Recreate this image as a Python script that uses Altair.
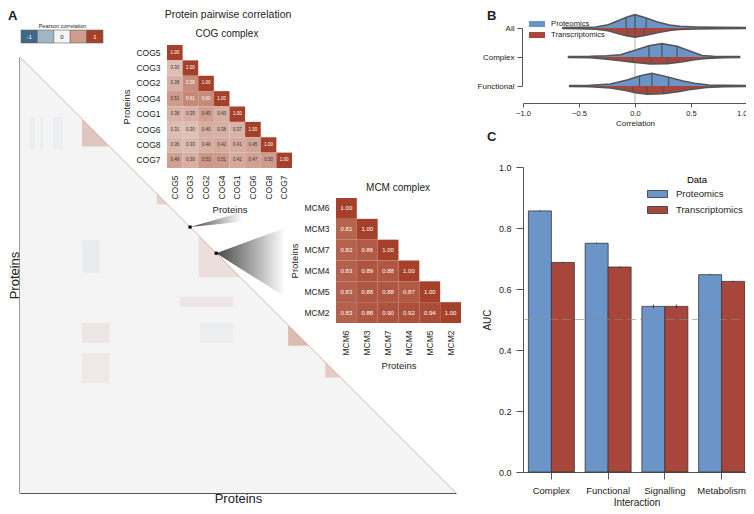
import altair as alt
import numpy as np
import pandas as pd

FONT = "Liberation Sans"
TXT = "#222222"
AX = "#555555"
BLUE = "#6b95c9"
RED = "#a9463c"

series_names = ["Proteomics", "Transcriptomics"]
series_colors = [BLUE, RED]

# ---------------- Panel A data ----------------
corr_domain = [-1, -0.5, 0, 0.5, 1]
corr_colors = ["#3e6887", "#9fb7c4", "#f4f4f4", "#cf9c8d", "#a5412b"]
cbar_values = [-1, -0.5, 0, 0.5, 1]
cbar_labels = ["-1", "", "0", "", "1"]

cog_names = ["COG5", "COG3", "COG2", "COG4", "COG1", "COG6", "COG8", "COG7"]
cog_corr = [
    [1.00],
    [0.30, 1.00],
    [0.38, 0.59, 1.00],
    [0.51, 0.61, 0.60, 1.00],
    [0.38, 0.39, 0.49, 0.40, 1.00],
    [0.31, 0.30, 0.40, 0.38, 0.37, 1.00],
    [0.36, 0.33, 0.40, 0.42, 0.41, 0.45, 1.00],
    [0.48, 0.39, 0.53, 0.51, 0.42, 0.47, 0.50, 1.00],
]
mcm_names = ["MCM6", "MCM3", "MCM7", "MCM4", "MCM5", "MCM2"]
mcm_corr = [
    [1.00],
    [0.81, 1.00],
    [0.82, 0.86, 1.00],
    [0.83, 0.89, 0.88, 1.00],
    [0.83, 0.88, 0.88, 0.87, 1.00],
    [0.83, 0.88, 0.90, 0.92, 0.94, 1.00],
]

n_proteins = 1000
# correlated blocks along the diagonal
cluster_start = [142, 314, 410, 615, 700]
cluster_end = [205, 338, 505, 662, 735]
cluster_corr = [0.40, 0.30, 0.18, 0.50, 0.35]
# faint off-diagonal patches (columns x rows, protein index)
patch_c0 = [142, 142, 142, 413, 367, 23, 46, 76]
patch_c1 = [183, 206, 206, 489, 489, 34, 53, 99]
patch_r0 = [420, 610, 679, 610, 550, 138, 138, 138]
patch_r1 = [495, 656, 748, 656, 573, 213, 213, 213]
patch_corr = [-0.12, 0.15, 0.12, -0.10, 0.15, -0.08, -0.08, -0.08]

zoom_names = ["COG", "MCM"]
zoom_index = [390, 450]
zoom_end = [509, 608]
zoom_top = [356, 392]
zoom_bottom = [378, 550]

# ---------------- Panel B data ----------------
vio_cats = ["All", "Complex", "Functional"]
all_p_x = [-0.65, -0.5, -0.35, -0.24, -0.13, -0.07, 0.0, 0.1, 0.2, 0.31, 0.4, 0.55, 0.75, 1.0]
all_p_d = [0.04, 0.05, 0.08, 0.25, 0.62, 0.83, 1.0, 0.75, 0.45, 0.23, 0.13, 0.08, 0.05, 0.04]
all_t_x = [-0.65, -0.5, -0.35, -0.24, -0.13, -0.07, 0.0, 0.1, 0.2, 0.31, 0.4, 0.55, 0.75, 1.0]
all_t_d = [0.04, 0.05, 0.09, 0.2, 0.47, 0.6, 0.68, 0.55, 0.36, 0.19, 0.11, 0.07, 0.05, 0.04]
cpx_p_x = [-0.6, -0.4, -0.25, -0.13, 0.0, 0.125, 0.24, 0.375, 0.52, 0.6, 0.7, 0.94]
cpx_p_d = [0.04, 0.05, 0.09, 0.17, 0.5, 0.85, 1.0, 0.8, 0.35, 0.11, 0.06, 0.04]
cpx_t_x = [-0.6, -0.4, -0.27, -0.13, 0.0, 0.14, 0.29, 0.43, 0.53, 0.64, 0.8, 0.94]
cpx_t_d = [0.04, 0.06, 0.15, 0.28, 0.4, 0.53, 0.5, 0.35, 0.2, 0.1, 0.05, 0.04]
fun_p_x = [-0.59, -0.4, -0.22, -0.07, 0.04, 0.15, 0.3, 0.43, 0.53, 0.66, 0.8, 1.0]
fun_p_d = [0.04, 0.06, 0.15, 0.45, 0.75, 0.95, 0.65, 0.38, 0.2, 0.08, 0.05, 0.04]
fun_t_x = [-0.59, -0.4, -0.22, -0.07, 0.0, 0.11, 0.25, 0.4, 0.5, 0.64, 0.8, 1.0]
fun_t_d = [0.04, 0.06, 0.15, 0.35, 0.5, 0.62, 0.58, 0.4, 0.25, 0.1, 0.05, 0.04]
quart_all_p = [-0.08, 0.0, 0.1]
quart_all_t = [-0.07, 0.0, 0.08]
quart_cpx_p = [0.125, 0.24, 0.375]
quart_cpx_t = [-0.02, 0.14, 0.29]
quart_fun_p = [0.04, 0.15, 0.3]
quart_fun_t = [-0.02, 0.11, 0.25]
zero_line_x = [0.0]

# ---------------- Panel C data ----------------
interactions = ["Complex", "Functional", "Signalling", "Metabolism"]
prot_auc = [0.856, 0.750, 0.543, 0.647]
trans_auc = [0.687, 0.672, 0.543, 0.625]
prot_err = [0.002, 0.002, 0.006, 0.002]
trans_err = [0.002, 0.002, 0.006, 0.002]
chance_auc = [0.5]


def band(domain, rng):
    return alt.Scale(domain=domain, range=rng, paddingInner=0, paddingOuter=0)


def lin(domain, rng):
    return alt.Scale(domain=domain, range=rng, nice=False, zero=False)


def corr_scale():
    return alt.Scale(domain=corr_domain, range=corr_colors, interpolate="rgb")


layers = []

# ================= Panel A: big matrix =================
HX = [12, 448]
HY = [49, 485]
HD = [0, n_proteins]
tri_df = pd.DataFrame({"c": [0, n_proteins], "top": [0, n_proteins], "bot": [n_proteins, n_proteins]})
heat_x_axis = alt.Axis(orient="bottom", offset=-13, domainColor=AX, domainWidth=1.2, ticks=False,
                       labels=False, grid=False, title="Proteins", titleFontSize=13, titleY=9,
                       titleBaseline="alphabetic", titleFontWeight="normal")
heat_y_axis = alt.Axis(orient="left", offset=-11.5, domainColor=AX, domainWidth=1.2, ticks=False,
                       labels=False, grid=False, title="Proteins", titleFontSize=13, titleAngle=270,
                       titleX=-1.5, titleY=267, titleAlign="center", titleBaseline="alphabetic",
                       titleFontWeight="normal")
layers.append(alt.Chart(tri_df).mark_area(color="#f4f4f5").encode(
    x=alt.X("c:Q", scale=lin(HD, HX), axis=heat_x_axis),
    y=alt.Y("top:Q", scale=lin(HD, HY), axis=heat_y_axis),
    y2="bot:Q",
))

patch_df = pd.DataFrame({"c0": patch_c0, "c1": patch_c1, "r0": patch_r0, "r1": patch_r1, "v": patch_corr})
layers.append(alt.Chart(patch_df).mark_rect(opacity=0.55).encode(
    x=alt.X("c0:Q", scale=lin(HD, HX), axis=None),
    x2="c1:Q",
    y=alt.Y("r0:Q", scale=lin(HD, HY), axis=None),
    y2="r1:Q",
    color=alt.Color("v:Q", scale=corr_scale(), legend=None),
))

cl_rows = []
for i, (a, b, v) in enumerate(zip(cluster_start, cluster_end, cluster_corr)):
    cl_rows.append({"id": i, "c": a, "top": a, "bot": b, "v": v})
    cl_rows.append({"id": i, "c": b, "top": b, "bot": b, "v": v})
layers.append(alt.Chart(pd.DataFrame(cl_rows)).mark_area(opacity=0.65).encode(
    x=alt.X("c:Q", scale=lin(HD, HX), axis=None),
    y=alt.Y("top:Q", scale=lin(HD, HY), axis=None),
    y2="bot:Q",
    detail="id:N",
    color=alt.Color("v:Q", scale=corr_scale(), legend=None),
))

diag_df = pd.DataFrame({"c": [0, n_proteins], "r": [0, n_proteins]})
layers.append(alt.Chart(diag_df).mark_line(color="#c9826f", strokeWidth=0.7, opacity=0.8).encode(
    x=alt.X("c:Q", scale=lin(HD, HX), axis=None),
    y=alt.Y("r:Q", scale=lin(HD, HY), axis=None),
))

w_rows = []
for nm, idx, e, t, b in zip(zoom_names, zoom_index, zoom_end, zoom_top, zoom_bottom):
    w_rows.append({"name": nm, "c": idx, "top": idx, "bot": idx})
    w_rows.append({"name": nm, "c": e, "top": t, "bot": b})
wedge_fill = alt.LinearGradient(
    gradient="linear",
    stops=[alt.GradientStop(color="#3c3c3c", offset=0), alt.GradientStop(color="#ffffff", offset=1)],
    x1=0, x2=1, y1=0, y2=0,
)
layers.append(alt.Chart(pd.DataFrame(w_rows)).mark_area(fill=wedge_fill, opacity=0.95).encode(
    x=alt.X("c:Q", scale=lin(HD, HX), axis=None),
    y=alt.Y("top:Q", scale=lin(HD, HY), axis=None),
    y2="bot:Q",
    detail="name:N",
))
layers.append(alt.Chart(pd.DataFrame({"c": zoom_index, "r": zoom_index})).mark_square(
    size=10, color="black", opacity=1, filled=True).encode(
    x=alt.X("c:Q", scale=lin(HD, HX), axis=None),
    y=alt.Y("r:Q", scale=lin(HD, HY), axis=None),
))


# ================= Panel A: insets =================
def inset(names, corr, xr, yr, fsize, xoff, yoff):
    rows = []
    for i, r in enumerate(corr):
        for j, v in enumerate(r):
            rows.append({"row": names[i], "col": names[j], "v": v})
    df = pd.DataFrame(rows)
    xax = alt.Axis(orient="bottom", offset=xoff, labelAngle=270, labelFontSize=8.5, labelPadding=7,
                   ticks=False, domain=False, title="Proteins", titleFontSize=9.5, titlePadding=5,
                   titleFontWeight="normal", grid=False)
    yax = alt.Axis(orient="left", offset=yoff, labelFontSize=8.5, labelPadding=7, ticks=False,
                   domain=False, title="Proteins", titleFontSize=9.5, titlePadding=4,
                   titleFontWeight="normal", grid=False)
    rect = alt.Chart(df).mark_rect().encode(
        x=alt.X("col:N", sort=names, scale=band(names, xr), axis=xax),
        y=alt.Y("row:N", sort=names, scale=band(names, yr), axis=yax),
        color=alt.Color("v:Q", scale=corr_scale(), legend=None),
    )
    txt = alt.Chart(df).mark_text(fontSize=fsize).encode(
        x=alt.X("col:N", sort=names, scale=band(names, xr), axis=None),
        y=alt.Y("row:N", sort=names, scale=band(names, yr), axis=None),
        text=alt.Text("v:Q", format=".2f"),
        color=alt.condition("datum.v >= 0.58", alt.value("white"), alt.value("#333333")),
    )
    return [rect, txt]


layers += inset(cog_names, cog_corr, [159, 284], [37, 160], 4.5, -338, -159)
layers += inset(mcm_names, mcm_corr, [328, 453], [190, 315], 6, -183, -328)

cbar_keys = [str(i) for i in range(len(cbar_values))]
cbar_df = pd.DataFrame({"k": cbar_keys, "v": cbar_values, "lab": cbar_labels, "r": ["bar"] * 5})
layers.append(alt.Chart(cbar_df).mark_rect(stroke="#666666", strokeWidth=0.6).encode(
    x=alt.X("k:N", scale=band(cbar_keys, [13, 95]),
            axis=alt.Axis(orient="top", offset=-22, labels=False, ticks=False, domain=False,
                          title="Pearson correlation", titleFontSize=5.5, titlePadding=2,
                          titleFontWeight="normal", grid=False)),
    y=alt.Y("r:N", scale=band(["bar"], [22, 35]), axis=None),
    color=alt.Color("v:Q", scale=corr_scale(), legend=None),
))
layers.append(alt.Chart(cbar_df).mark_text(fontSize=6).encode(
    x=alt.X("k:N", scale=band(cbar_keys, [13, 95]), axis=None),
    y=alt.Y("r:N", scale=band(["bar"], [22, 35]), axis=None),
    text="lab:N",
    color=alt.condition("abs(datum.v) > 0.9", alt.value("white"), alt.value("#222222")),
))

# ================= Panel B: violins =================
BX = [515, 739]
BY = [20, 78]
VK = 0.46
vio_sets = [
    ("All", "Proteomics", all_p_x, all_p_d, quart_all_p),
    ("All", "Transcriptomics", all_t_x, all_t_d, quart_all_t),
    ("Complex", "Proteomics", cpx_p_x, cpx_p_d, quart_cpx_p),
    ("Complex", "Transcriptomics", cpx_t_x, cpx_t_d, quart_cpx_t),
    ("Functional", "Proteomics", fun_p_x, fun_p_d, quart_fun_p),
    ("Functional", "Transcriptomics", fun_t_x, fun_t_d, quart_fun_t),
]
v_rows, q_rows = [], []
for cat, ser, xs, ds, qs in vio_sets:
    ci = vio_cats.index(cat)
    sign = -1 if ser == "Proteomics" else 1
    for x, d in zip(xs, ds):
        edge = ci + sign * d * VK
        v_rows.append({"cat": cat, "series": ser, "x": x, "lo": min(ci, edge), "hi": max(ci, edge), "edge": edge})
    for q in qs:
        dq = float(np.interp(q, xs, ds))
        edge = ci + sign * dq * VK
        q_rows.append({"cat": cat, "series": ser, "q": q, "lo": min(ci, edge), "hi": max(ci, edge)})
v_df = pd.DataFrame(v_rows)
q_df = pd.DataFrame(q_rows)

b_x_axis = alt.Axis(orient="bottom", offset=-403, values=[-1, -0.5, 0, 0.5, 1], format=".1f", tickSize=4,
                    tickColor=AX, domainColor=AX, labelFontSize=7.5, labelPadding=2, labelFlush=False,
                    labelAlign=alt.condition("datum.value >= 1", alt.value("right"), alt.value("center")),
                    title="Correlation", titleFontSize=8, titlePadding=3, titleFontWeight="normal", grid=False)
b_y_axis = alt.Axis(orient="left", offset=-514, tickSize=5, tickColor=AX, domainColor=AX,
                    labelFontSize=8, labelPadding=3, title=None, grid=False)

zero_df = pd.DataFrame({"x": zero_line_x, "y0": [-0.5], "y1": [2.586]})
layers.append(alt.Chart(zero_df).mark_rule(color="#b0b0b0", strokeWidth=1).encode(
    x=alt.X("x:Q", scale=lin([-1, 1], BX), axis=b_x_axis),
    y=alt.Y("y0:Q", scale=lin([0, 2], BY), axis=None),
    y2="y1:Q",
))
layers.append(alt.Chart(pd.DataFrame({"cat": vio_cats})).mark_point(opacity=0).encode(
    y=alt.Y("cat:N", sort=vio_cats, scale=alt.Scale(type="point", domain=vio_cats, range=BY, padding=0),
            axis=b_y_axis),
))
layers.append(alt.Chart(v_df).mark_area(opacity=1).encode(
    x=alt.X("x:Q", scale=lin([-1, 1], BX), axis=None),
    y=alt.Y("lo:Q", scale=lin([0, 2], BY), axis=None),
    y2="hi:Q",
    detail="cat:N",
    color=alt.Color("series:N", scale=alt.Scale(domain=series_names, range=series_colors),
                    legend=alt.Legend(orient="none", legendX=525, legendY=12, title=None,
                                      labelFontSize=7.7, labelColor=TXT,
                                      symbolType="M-2,-0.75L2,-0.75L2,0.75L-2,0.75Z", symbolSize=64,
                                      symbolStrokeWidth=0, symbolOpacity=1, rowPadding=3,
                                      labelOffset=10, padding=0)),
))
layers.append(alt.Chart(v_df).mark_line(color="#555555", strokeWidth=1.6).encode(
    x=alt.X("x:Q", scale=lin([-1, 1], BX), axis=None),
    y=alt.Y("edge:Q", scale=lin([0, 2], BY), axis=None),
    detail=["cat:N", "series:N"],
))
layers.append(alt.Chart(q_df).mark_rule(color="#555555", strokeWidth=1.3).encode(
    x=alt.X("q:Q", scale=lin([-1, 1], BX), axis=None),
    y=alt.Y("lo:Q", scale=lin([0, 2], BY), axis=None),
    y2="hi:Q",
))

# ================= Panel C: bars =================
CX = [515, 742]
CY = [464, 159]
bar_df = pd.DataFrame({
    "cat": interactions * 2,
    "series": ["Proteomics"] * 4 + ["Transcriptomics"] * 4,
    "auc": prot_auc + trans_auc,
    "err": prot_err + trans_err,
})
bar_df["lo"] = bar_df["auc"] - bar_df["err"]
bar_df["hi"] = bar_df["auc"] + bar_df["err"]
C_STEP = (CX[1] - CX[0]) / 4.0
C_BAND = C_STEP * 0.81


def cxs():
    return alt.Scale(domain=interactions, range=CX, paddingInner=0.19, paddingOuter=0.095)


def offs():
    return alt.Scale(domain=series_names, range=[0, C_BAND], paddingInner=0, paddingOuter=0)


c_x_axis = alt.Axis(orient="bottom", offset=-34, domainColor=AX, tickColor=AX, tickSize=7, labelAngle=0,
                    labelFontSize=9.5, labelPadding=6, title="Interaction", titleFontSize=10,
                    titleY=33, titleBaseline="alphabetic", titleFontWeight="normal", grid=False)
c_y_axis = alt.Axis(orient="left", offset=-515, values=[0, 0.2, 0.4, 0.6, 0.8, 1.0], format=".1f",
                    domainColor=AX, tickColor=AX, tickSize=7, labelFontSize=9, labelPadding=5,
                    title="AUC", titleFontSize=10, titlePadding=6, titleFontWeight="normal", grid=False)
layers.append(alt.Chart(bar_df).mark_bar(stroke="#333333", strokeWidth=0.8).encode(
    x=alt.X("cat:N", sort=interactions, scale=cxs(), axis=c_x_axis),
    xOffset=alt.XOffset("series:N", scale=offs()),
    y=alt.Y("auc:Q", scale=lin([0, 1], CY), axis=c_y_axis, stack=None),
    color=alt.Color("series:N", scale=alt.Scale(domain=series_names, range=series_colors),
                    legend=alt.Legend(orient="none", legendX=644, legendY=167, title="Data",
                                      titleFontSize=9.5, titleFontWeight="normal", titleAnchor="middle",
                                      titlePadding=4, labelFontSize=9.5, labelColor=TXT,
                                      symbolType="M-2,-0.7L2,-0.7L2,0.7L-2,0.7Z", symbolSize=100,
                                      symbolStrokeColor="#333333", symbolStrokeWidth=0.8,
                                      symbolOpacity=1, rowPadding=5, labelOffset=13, padding=0)),
))
layers.append(alt.Chart(bar_df).mark_rule(color="#333333", strokeWidth=1).encode(
    x=alt.X("cat:N", sort=interactions, scale=cxs(), axis=None),
    xOffset=alt.XOffset("series:N", scale=offs()),
    y=alt.Y("lo:Q", scale=lin([0, 1], CY), axis=None),
    y2="hi:Q",
))
dash_df = pd.DataFrame({"x0": [0.0], "x1": [1.0], "y": chance_auc})
layers.append(alt.Chart(dash_df).mark_rule(color="#888888", strokeWidth=1.2, strokeDash=[9, 4], opacity=0.6).encode(
    x=alt.X("x0:Q", scale=lin([0, 1], [515, 733]), axis=None),
    x2="x1:Q",
    y=alt.Y("y:Q", scale=lin([0, 1], CY), axis=None),
))


# ================= annotations =================
def note(text, x, y, size, weight="normal", align="center"):
    return alt.Chart(pd.DataFrame({"t": [text]})).mark_text(
        fontSize=size, fontWeight=weight, align=align, baseline="alphabetic", color=TXT
    ).encode(text="t:N", x=alt.value(x), y=alt.value(y))


layers += [
    note("A", 0, 12, 13, "bold", "left"),
    note("B", 479, 12, 13, "bold", "left"),
    note("C", 479, 133, 13, "bold", "left"),
    note("Protein pairwise correlation", 220, 10, 10.5),
    note("COG complex", 219, 29, 10),
    note("MCM complex", 390, 183, 10),
]

chart = alt.layer(*layers).resolve_scale(
    x="independent", y="independent", color="independent"
).properties(
    width=738, height=498, autosize=alt.AutoSizeParams(type="none"), padding=0
).configure(font=FONT).configure_view(stroke=None).configure_axis(
    labelColor=TXT, titleColor=TXT
)

chart.save("out.html", embed_options={"renderer": "svg", "actions": False})
